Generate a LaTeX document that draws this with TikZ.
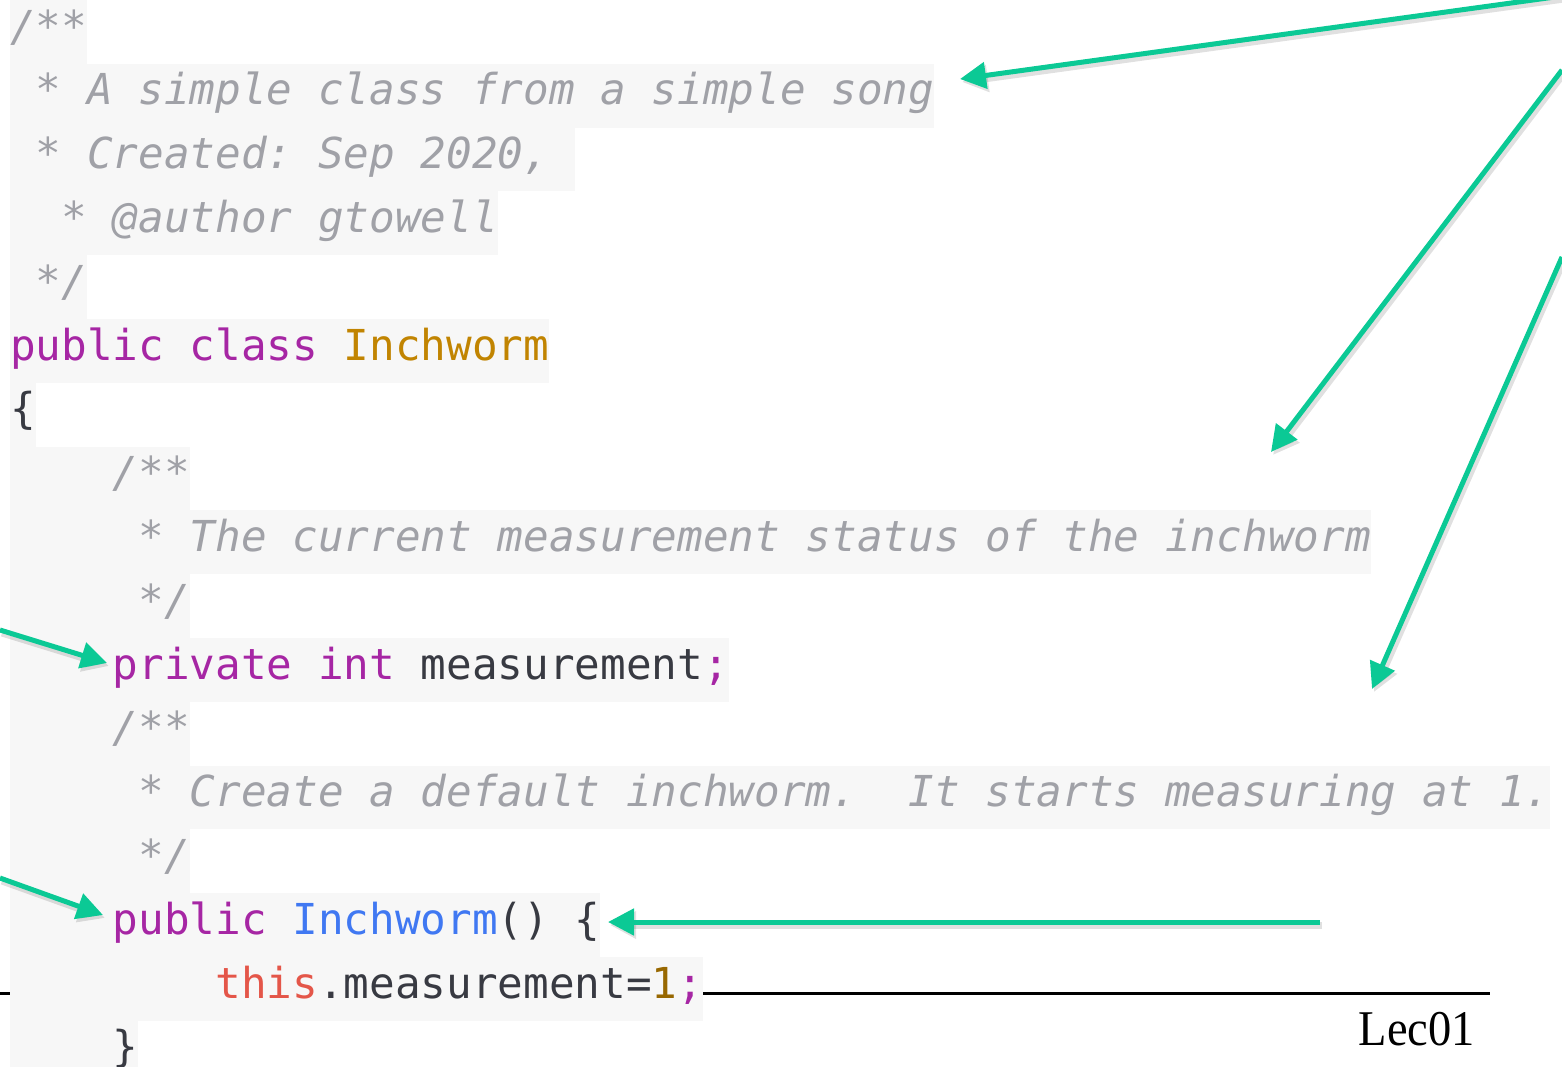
\documentclass[tikz,border=0pt]{standalone}
\usepackage{fontspec}
\setmonofont{DejaVu Sans Mono}
\newfontfamily\lecfont{Liberation Serif}
\usepackage{tikz}
\usetikzlibrary{arrows.meta,calc}

\definecolor{cmt}{HTML}{A0A1A7}
\definecolor{kw}{HTML}{A626A4}
\definecolor{cls}{HTML}{C18401}
\definecolor{fn}{HTML}{4078F2}
\definecolor{thiscol}{HTML}{E45649}
\definecolor{num}{HTML}{986801}
\definecolor{txt}{HTML}{383A42}
\definecolor{codebg}{HTML}{F7F7F7}
\definecolor{mark}{HTML}{0BC995}

\newcommand\cw{25.67}
\newcommand\lh{63.8}
\newcommand\cmtxt[1]{{\itshape\color{cmt}#1}}

\begin{document}
\begin{tikzpicture}[x=1pt,y=-1pt,
    code/.style={anchor=base west,inner sep=0pt,text=txt,
      font=\ttfamily\fontsize{42.64}{64}\selectfont},
    pointer/.style={draw=mark,line width=5pt,-{Triangle[length=26pt,width=26pt]},
      preaction={draw=black,opacity=0.12,line width=7pt,
        transform canvas={xshift=2pt,yshift=-3pt}}}]
  \useasboundingbox (0,0) rectangle (1562,1066);
  \clip (0,0) rectangle (1562,1066);
  % rule under the code
  \draw[line width=3pt] (0,993) -- (1490,993);
  % line backgrounds
  \foreach \i/\n in {1/3,2/36,3/22,4/19,5/3,6/21,7/1,8/7,9/53,10/7,11/28,12/7,13/60,14/7,15/23,16/27,17/5}
    \fill[codebg] (10,{(\i-1)*\lh}) rectangle ({10+\n*\cw},{\i*\lh});
  % code lines
  \node[code] (l1)  at ({10+0*\cw},{41+0*\lh})  {\cmtxt{/**}};
  \node[code] (l2)  at ({10+1*\cw},{41+1*\lh})  {\cmtxt{* A simple class from a simple song}};
  \node[code] (l3)  at ({10+1*\cw},{41+2*\lh})  {\cmtxt{* Created: Sep 2020,}};
  \node[code] (l4)  at ({10+2*\cw},{41+3*\lh})  {\cmtxt{* @author gtowell}};
  \node[code] (l5)  at ({10+1*\cw},{41+4*\lh})  {\cmtxt{*/}};
  \node[code] (l6)  at ({10+0*\cw},{41+5*\lh})  {\textcolor{kw}{public class} \textcolor{cls}{Inchworm}};
  \node[code] (l7)  at ({10+0*\cw},{41+6*\lh})  {\{};
  \node[code] (l8)  at ({10+4*\cw},{41+7*\lh})  {\cmtxt{/**}};
  \node[code] (l9)  at ({10+5*\cw},{41+8*\lh})  {\cmtxt{* The current measurement status of the inchworm}};
  \node[code] (l10) at ({10+5*\cw},{41+9*\lh})  {\cmtxt{*/}};
  \node[code] (l11) at ({10+4*\cw},{41+10*\lh}) {\textcolor{kw}{private int} measurement\textcolor{kw}{;}};
  \node[code] (l12) at ({10+4*\cw},{41+11*\lh}) {\cmtxt{/**}};
  \node[code] (l13) at ({10+5*\cw},{41+12*\lh}) {\cmtxt{* Create a default inchworm.\ \ It starts measuring at 1.}};
  \node[code] (l14) at ({10+5*\cw},{41+13*\lh}) {\cmtxt{*/}};
  \node[code] (l15) at ({10+4*\cw},{41+14*\lh}) {\textcolor{kw}{public} \textcolor{fn}{Inchworm}() \{};
  \node[code] (l16) at ({10+8*\cw},{41+15*\lh}) {\textcolor{thiscol}{this}.measurement=\textcolor{num}{1}\textcolor{kw}{;}};
  \node[code] (l17) at ({10+4*\cw},{41+16*\lh}) {\}};
  % footer
  \node[anchor=base east,inner sep=0pt,xscale=0.93,font=\lecfont\fontsize{50}{60}\selectfont] (lec) at (1475,1045) {Lec01};
  % arrow ends
  \coordinate (a1s) at (1562,-4);   \coordinate (a1e) at (960,79);
  \coordinate (a2s) at (1562,70);   \coordinate (a2e) at (1271,452);
  \coordinate (a3s) at (1562,257);  \coordinate (a3e) at (1372,689);
  \coordinate (a4s) at (0,630);     \coordinate (a4e) at (107,663);
  \coordinate (a5s) at (0,878);     \coordinate (a5e) at (103,915);
  \coordinate (a6s) at (1320,922);  \coordinate (a6e) at (608,922);
  \foreach \k in {1,...,6}
    \draw[pointer] (a\k s) -- (a\k e);
\end{tikzpicture}
\end{document}
